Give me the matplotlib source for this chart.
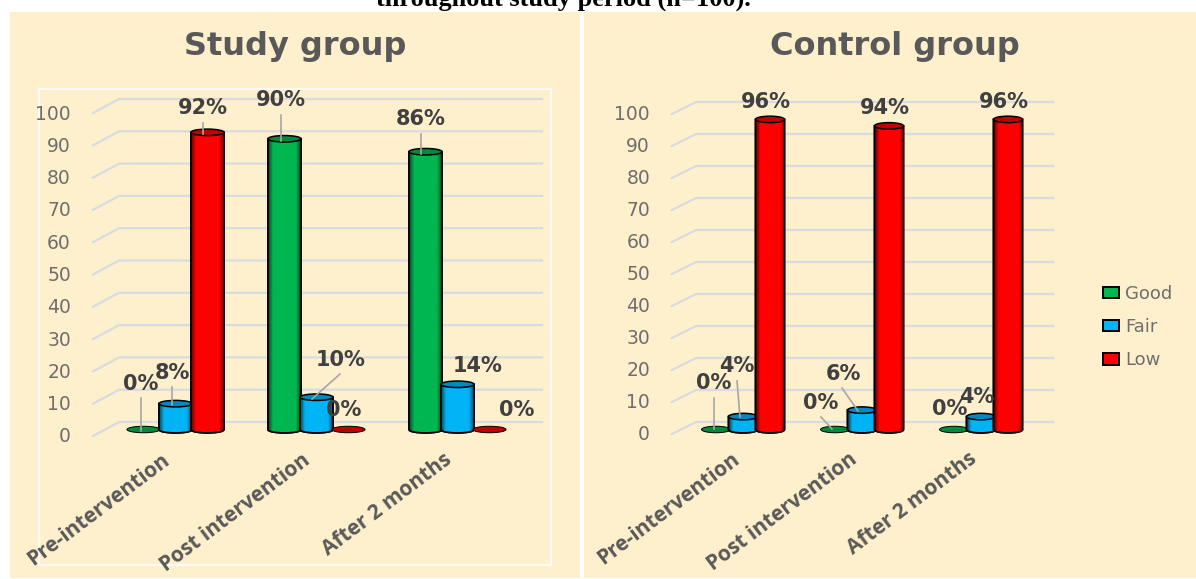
import numpy as np
import matplotlib
matplotlib.use("Agg")
import matplotlib.pyplot as plt
from matplotlib.patches import Ellipse, Patch, PathPatch, Rectangle
from matplotlib.path import Path

W, H = 1196, 579

categories = ["Pre-intervention", "Post intervention", "After 2 months"]
series_names = ["Good", "Fair", "Low"]
y_ticks = [0, 10, 20, 30, 40, 50, 60, 70, 80, 90, 100]

study_good = [0, 90, 86]
study_fair = [8, 10, 14]
study_low = [92, 0, 0]

control_good = [0, 0, 0]
control_fair = [4, 6, 4]
control_low = [96, 94, 96]

colors = {"Good": "#00B650", "Fair": "#00B4F5", "Low": "#FF0000"}
tops = {"Good": "#008A3E", "Fair": "#0088C0", "Low": "#C00000"}
BG = "#FFF0CD"
TXT = "#595959"
PX = 3.23  # pixels per percent
BASE_Y = 429.5


def shade(color):
    # dark edges, bright middle, like the Excel 3D cylinder
    rgb = np.array(matplotlib.colors.to_rgb(color))
    t = np.linspace(0, 1, 64)
    f = 0.4 + 0.6 * np.clip(np.sin(np.pi * t) * 2.2, 0, 1)
    return rgb[None, None, :] * f[None, :, None]


def cylinder(ax, x, value, name, width, eh):
    c = colors[name]
    z = 3 + x * 0.1
    if value > 0:
        verts = [(x - width / 2, value), (x - width / 2, 0)]
        codes = [Path.MOVETO, Path.LINETO]
        verts += [(x - width / 2, -eh * 0.7), (x + width / 2, -eh * 0.7), (x + width / 2, 0)]
        codes += [Path.CURVE4, Path.CURVE4, Path.CURVE4]
        verts += [(x + width / 2, value), (x - width / 2, value)]
        codes += [Path.LINETO, Path.CLOSEPOLY]
        body = PathPatch(Path(verts, codes), facecolor=c, edgecolor="black", lw=1.2, zorder=z)
        ax.add_patch(body)
        im = ax.imshow(shade(c), extent=(x - width / 2, x + width / 2, -eh, value), aspect="auto",
                       zorder=z, interpolation="bilinear")
        im.set_clip_path(body)
        ax.add_patch(PathPatch(Path(verts, codes), fill=False, edgecolor="black", lw=1.2, zorder=z))
    lw = 1.1 if value > 0 else 0.7
    ax.add_patch(Ellipse((x, value), width, eh, facecolor=tops[name], edgecolor="black", lw=lw, zorder=z + 0.001))


def draw_panel(left, right, x0, step, bar_step, bar_w, series, title, title_px, front_x, back_x, back_end,
               grid_px, labels, tick_px, frame=None):
    ax = fig.add_axes([left / W, 1 / H, (right - left) / W, (H - 13) / H])
    ax.set_facecolor(BG)
    ax.set_xlim((left - x0) / step, (right - x0) / step)
    ax.set_ylim((BASE_Y - H + 1) / PX, (BASE_Y - 12) / PX)
    ax.set_xticks([])
    ax.set_yticks([])
    for s in ax.spines.values():
        s.set_visible(False)

    to_x = lambda px: (px - x0) / step
    to_y = lambda py: (BASE_Y - py) / PX

    front0, back0, label0, scale = grid_px
    for v in y_ticks:
        front = to_y(front0 - v * scale)
        back = to_y(back0 - v * scale)
        ax.plot([to_x(front_x), to_x(back_x), to_x(back_end)], [front, back, back], color="#D8DBE0", lw=1.6, zorder=1)
        ax.text(to_x(front_x - 22), to_y(label0 - v * scale), str(v), ha="right", va="center",
                fontsize=13.5, family="DejaVu Sans", color="#6E6E6E", zorder=5)

    w = bar_w / step
    eh = 6.5 / PX
    for k, name in enumerate(series_names):
        for i, v in enumerate(series[k]):
            cylinder(ax, i + (k - 1) * bar_step / step, v, name, w, eh)

    for (tx, ty, lx0, ly0, lx1, ly1, s) in labels:
        ax.text(to_x(tx), to_y(ty), s, ha="center", va="center", fontsize=15, fontweight="bold",
                family="DejaVu Sans", color="#404040", zorder=7)
        if lx0 is not None:
            ax.plot([to_x(lx0), to_x(lx1)], [to_y(ly0), to_y(ly1)], color="#A6A6A6", lw=1.2, zorder=6)

    for (tx, ty), cat in zip(tick_px, categories):
        ax.text(to_x(tx), to_y(ty), cat, rotation=37, rotation_mode="anchor", ha="right", va="center",
                fontsize=15, fontweight="bold", color=TXT, zorder=5)

    ax.text(to_x(title_px), to_y(46), title, ha="center", va="center", fontsize=23, fontweight="bold",
            family="DejaVu Sans", color=TXT)

    if frame is not None:
        ax.add_patch(Rectangle((to_x(frame[0]), to_y(frame[3])), (frame[1] - frame[0]) / step,
                               (frame[3] - frame[2]) / PX, fill=False, edgecolor="white", lw=1.2, zorder=2))
    return ax


plt.rcParams["font.family"] = ["Open Sans", "DejaVu Sans"]
fig = plt.figure(figsize=(W / 100, H / 100), dpi=100, facecolor="white")

study_labels = [
    (141, 384, 141, 398, 141, 431, "0%"),
    (172, 373, 172, 387, 172, 405, "8%"),
    (203, 108, 203, 123, 203, 134, "92%"),
    (281, 100, 281, 115, 281, 141, "90%"),
    (341, 360, 340, 374, 312, 399, "10%"),
    (344, 410, None, None, None, None, "0%"),
    (421, 119, 421, 134, 421, 154, "86%"),
    (478, 366, None, None, None, None, "14%"),
    (517, 410, None, None, None, None, "0%"),
]
control_labels = [
    (714, 383, 714, 398, 714, 429, "0%"),
    (737, 366, 737, 381, 740, 417, "4%"),
    (766, 102, None, None, None, None, "96%"),
    (821, 403, 821, 417, 832, 429, "0%"),
    (843, 374, 842, 388, 858, 411, "6%"),
    (885, 108, None, None, None, None, "94%"),
    (950, 409, None, None, None, None, "0%"),
    (977, 397, None, None, None, None, "4%"),
    (1004, 102, None, None, None, None, "96%"),
]

draw_panel(10, 580, 175.5, 141, 32, 33, [study_good, study_fair, study_low], "Study group", 295,
           93, 119, 542, (436, 422, 437, 3.23), study_labels,
           [(167, 458), (308, 458), (449, 458)], frame=(39, 551, 89, 565))
draw_panel(584, 1196, 743, 119, 27, 29, [control_good, control_fair, control_low], "Control group", 895,
           672, 696, 1053, (434, 422, 434, 3.2), control_labels,
           [(737, 457), (855, 457), (974, 457)])

handles = [Patch(facecolor=colors[n], edgecolor="black", lw=1.4, label=n) for n in series_names]
fig.legend(handles=handles, loc="center left", bbox_to_anchor=(1103 / W, 1 - 327 / H), frameon=False,
           labelcolor="#6E6E6E", handlelength=0.89, handleheight=0.6, handletextpad=0.35,
           labelspacing=0.85, borderpad=0, borderaxespad=0, prop={"family": "DejaVu Sans", "size": 13})

fig.text(563 / W, 1 - 6 / H, "throughout study period (n=100).", ha="center", va="baseline", fontsize=19,
         fontweight="bold", family="Liberation Serif", color="black")

fig.savefig("out.png", dpi=100, facecolor="white")
